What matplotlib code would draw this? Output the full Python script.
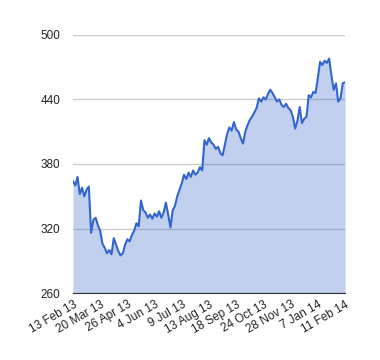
import numpy as np
import matplotlib.pyplot as plt

plt.rcParams['font.family'] = ['Liberation Sans', 'DejaVu Sans']

# closing prices, roughly every other trading day from 13 Feb 13 to 11 Feb 14
prices = [364, 360, 368, 352, 358, 350, 356, 359, 316, 328,
          330, 323, 318, 306, 302, 297, 300, 296, 311, 305,
          299, 295, 297, 305, 310, 308, 314, 318, 325, 322,
          346, 337, 335, 330, 333, 329, 334, 331, 336, 330,
          335, 344, 333, 321, 337, 341, 350, 356, 362, 370,
          366, 372, 368, 374, 370, 372, 377, 374, 402, 398,
          404, 400, 398, 394, 396, 390, 388, 398, 408, 414,
          411, 419, 412, 410, 404, 399, 410, 416, 421, 424,
          428, 432, 441, 438, 442, 440, 445, 449, 446, 442,
          438, 440, 435, 433, 436, 432, 430, 424, 413, 420,
          433, 418, 422, 424, 444, 442, 447, 446, 460, 475,
          472, 476, 474, 478, 462, 449, 455, 438, 441, 455,
          456]
tick_labels = ['13 Feb 13', '20 Mar 13', '26 Apr 13', '4 Jun 13', '9 Jul 13',
               '13 Aug 13', '18 Sep 13', '24 Oct 13', '28 Nov 13', '7 Jan 14',
               '11 Feb 14']
y_ticks = [260, 320, 380, 440, 500]

x = np.arange(len(prices))

fig = plt.figure(figsize=(3.8, 3.6), dpi=100)
ax = fig.add_axes([0.192, 0.186, 0.716, 0.717])

ax.fill_between(x, prices, 260, color='#3366cc', alpha=0.3, linewidth=0, zorder=2)
ax.plot(x, prices, color='#3366cc', linewidth=1.5, zorder=3)

ax.set_xlim(0, len(prices) - 1)
ax.set_ylim(260, 500)
ax.set_yticks(y_ticks)
ax.set_xticks(np.linspace(0, len(prices) - 1, len(tick_labels)))
ax.set_xticklabels(tick_labels, rotation=30, ha='right', rotation_mode='anchor')

ax.grid(axis='y', color='#cccccc', linewidth=1, zorder=1)
ax.set_axisbelow(True)
for s in ['top', 'right', 'left']:
    ax.spines[s].set_visible(False)
ax.spines['bottom'].set_color('#333333')
ax.spines['bottom'].set_zorder(4)
ax.tick_params(axis='both', length=0, labelsize=8.5, labelcolor='#222222')
ax.tick_params(axis='y', pad=9)
ax.tick_params(axis='x', pad=4)

fig.savefig('out.png', dpi=100)
